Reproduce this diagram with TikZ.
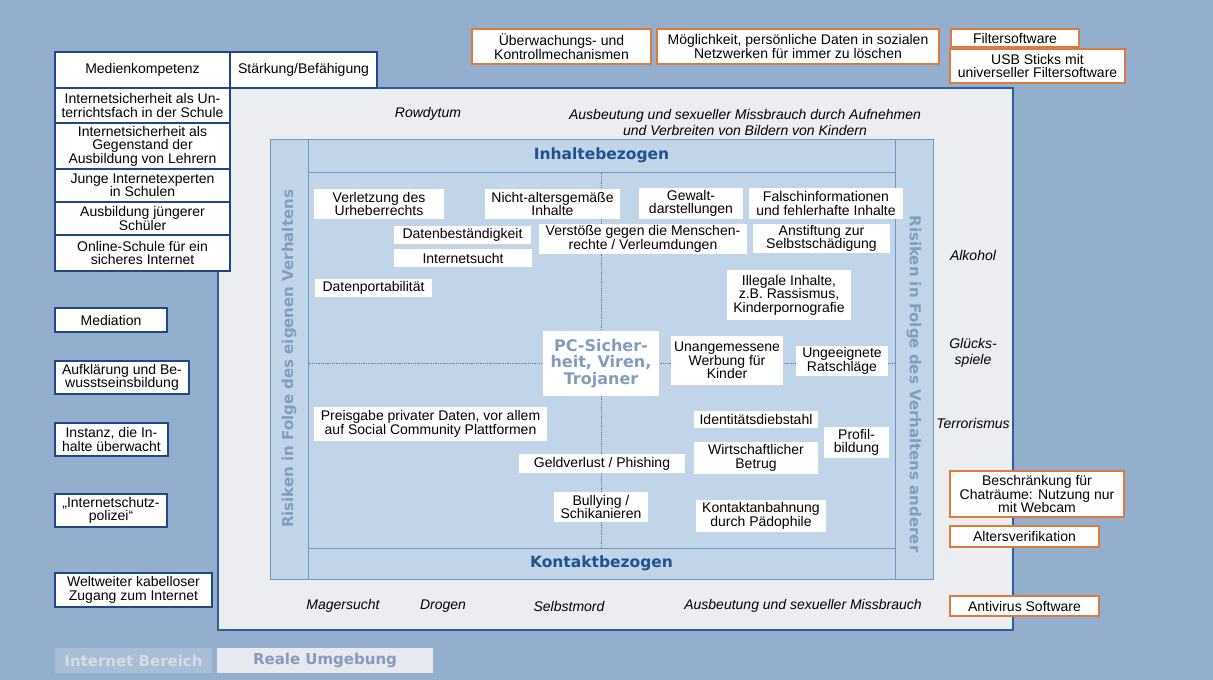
\documentclass[tikz,border=0pt]{standalone}
\usepackage{fontspec}
\setmainfont{Liberation Sans}
\newfontfamily\headfont{DejaVu Sans}
\lineskiplimit=-20pt

\definecolor{bgblue}{RGB}{148,174,205}
\definecolor{panelgrey}{RGB}{236,237,241}
\definecolor{innerblue}{RGB}{193,212,232}
\definecolor{bandline}{RGB}{112,150,194}
\definecolor{boxnavy}{RGB}{32,72,132}
\definecolor{frameblue}{RGB}{45,95,158}
\definecolor{boxorange}{RGB}{222,122,62}
\definecolor{headblue}{RGB}{30,82,145}
\definecolor{fadeblue}{RGB}{132,156,188}
\definecolor{tabblue}{RGB}{168,190,215}
\definecolor{tabtext}{RGB}{212,220,230}
\definecolor{tabgrey}{RGB}{231,233,238}
\definecolor{dotline}{RGB}{95,125,165}

\tikzset{
  sz/.style 2 args={minimum width=#1pt, minimum height=#2pt},
  txt/.style={font=\fontsize{14}{13.5}\selectfont, align=center, inner sep=0pt},
  bluebox/.style={txt, draw=boxnavy, line width=1.6pt, fill=white},
  orangebox/.style={txt, draw=boxorange, line width=2.2pt, fill=white},
  riskbox/.style={txt, fill=white},
  factor/.style={font=\fontsize{14}{16}\selectfont\itshape, align=center, inner sep=0pt},
  band/.style={draw=bandline, line width=1pt, fill=innerblue, inner sep=0pt,
    text=headblue, font=\headfont\bfseries\fontsize{15.5}{15.5}\selectfont},
  bandtext/.style={inner sep=0pt, text=fadeblue, font=\headfont\bfseries\fontsize{15}{15}\selectfont},
  tab/.style={inner sep=0pt, font=\headfont\bfseries\fontsize{15}{15}\selectfont},
  axis/.style={dotline, densely dotted, line width=0.8pt}
}

\begin{document}
\begin{tikzpicture}[x=1pt, y=-1pt]
  \useasboundingbox (0,0) rectangle (1213,680);
  \fill[bgblue] (0,0) rectangle (1213,680);

  % real world panel and the risk field inside it
  \node[draw=frameblue, line width=2pt, fill=panelgrey, sz={795}{542}] (umgebung) at (615.5,359) {};
  \node[draw=bandline, line width=1pt, fill=innerblue, sz={663}{440}] (risk) at (601.5,359) {};
  \node[band, sz={38}{440}] (lband) at (289,359) {};
  \node[band, sz={38}{440}] (rband) at (914,359) {};
  \node[band, sz={587}{33}] (hdr) at (601.5,155.5) {Inhaltebezogen};
  \node[band, sz={587}{31}] (ftr) at (601.5,563.5) {Kontaktbezogen};
  \node[bandtext, rotate=90] (eigen) at (289,359) {Risiken in Folge des eigenen Verhaltens};
  \node[bandtext, rotate=-90] (andere) at (914,384) {Risiken in Folge des Verhaltens anderer};

  % centre cross
  \coordinate (mid) at (601,363.5);
  \draw[axis] (hdr.south) -- (ftr.north);
  \draw[axis] (lband.east |- mid) -- (rband.west |- mid);
  \node[riskbox, sz={116}{65}, text=fadeblue,
    font=\headfont\bfseries\fontsize{16}{16.5}\selectfont] (pc) at (mid) {PC-Sicher-\\heit, Viren,\\Trojaner};

  % risks
  \node[riskbox, sz={130}{30}] (urheber) at (379,204) {Verletzung des\\Urheberrechts};
  \node[riskbox, sz={135}{30}] (altersgemaess) at (552.5,204) {Nicht-altersgemäße\\Inhalte};
  \node[riskbox, sz={104}{31}] (gewalt) at (691,203.5) {Gewalt-\\darstellungen};
  \node[riskbox, sz={154}{31}] (falsch) at (826,203.5) {Falschinformationen\\und fehlerhafte Inhalte};
  \node[riskbox, sz={137}{18}] (bestand) at (462.5,235) {Datenbeständigkeit};
  \node[riskbox, sz={138}{18}] (sucht) at (463,258) {Internetsucht};
  \node[riskbox, sz={208}{30}] (menschen) at (643,239) {Verstöße gegen die Menschen-\\rechte / Verleumdungen};
  \node[riskbox, sz={137}{29}] (anstiftung) at (821.5,238.5) {Anstiftung zur\\Selbstschädigung};
  \node[riskbox, sz={117}{18}] (portab) at (373.5,288) {Datenportabilität};
  \node[riskbox, sz={124}{50}] (illegal) at (789,295) {Illegale Inhalte,\\z.B. Rassismus,\\Kinderpornografie};
  \node[riskbox, sz={112}{49}] (werbung) at (727,360.5) {Unangemessene\\Werbung für\\Kinder};
  \node[riskbox, sz={92}{30}] (ratschlaege) at (842,361) {Ungeeignete\\Ratschläge};
  \node[riskbox, sz={233}{34}] (preisgabe) at (430.5,424) {Preisgabe privater Daten, vor allem\\auf Social Community Plattformen};
  \node[riskbox, sz={124}{17}] (identitaet) at (756,419.5) {Identitätsdiebstahl};
  \node[riskbox, sz={65}{31}] (profil) at (856.5,442.5) {Profil-\\bildung};
  \node[riskbox, sz={166}{19}] (geld) at (602,463.5) {Geldverlust / Phishing};
  \node[riskbox, sz={124}{32}] (betrug) at (756,458) {Wirtschaftlicher\\Betrug};
  \node[riskbox, sz={94}{30}] (bullying) at (601,507) {Bullying /\\Schikanieren};
  \node[riskbox, sz={130}{32}] (paedo) at (761,516) {Kontaktanbahnung\\durch Pädophile};

  % offline risk factors
  \node[factor] (rowdy) at (428,114) {Rowdytum};
  \node[factor] (bilder) at (745,122) {Ausbeutung und sexueller Missbrauch durch Aufnehmen\\und Verbreiten von Bildern von Kindern};
  \node[factor] (mager) at (343,606) {Magersucht};
  \node[factor] (drogen) at (443,606) {Drogen};
  \node[factor] (selbstmord) at (569,606) {Selbstmord};
  \node[factor] (missbrauch) at (803,606) {Ausbeutung und sexueller Missbrauch};
  \node[factor] (alkohol) at (973,255) {Alkohol};
  \node[factor] (gluecksspiel) at (973,353) {Glücks-\\spiele};
  \node[factor] (terror) at (973,423) {Terrorismus};

  % media literacy column
  \node[bluebox, sz={175}{36}] (medien) at (142.5,70) {Medienkompetenz};
  \node[bluebox, sz={147}{36}] (staerkung) at (303.5,70) {Stärkung/Befähigung};
  \node[bluebox, sz={175}{35}] (fach) at (142.5,105.5) {Internetsicherheit als Un-\\terrichtsfach in der Schule};
  \node[bluebox, sz={175}{46}] (lehrer) at (142.5,146) {Internetsicherheit als\\Gegenstand der\\Ausbildung von Lehrern};
  \node[bluebox, sz={175}{33}] (experten) at (142.5,185.5) {Junge Internetexperten\\in Schulen};
  \node[bluebox, sz={175}{33}] (schueler) at (142.5,218.5) {Ausbildung jüngerer\\Schüler};
  \node[bluebox, sz={175}{36}] (onlineschule) at (142.5,253) {Online-Schule für ein\\sicheres Internet};

  \node[bluebox, sz={112}{24}] (mediation) at (111,320) {Mediation};
  \node[bluebox, sz={134}{33}] (aufklaerung) at (122,377.5) {Aufklärung und Be-\\wusstseinsbildung};
  \node[bluebox, sz={113}{33}] (instanz) at (111.5,439.5) {Instanz, die In-\\halte überwacht};
  \node[bluebox, sz={112}{33}] (polizei) at (111,510.5) {„Internetschutz-\\polizei“};
  \node[bluebox, sz={157}{34}] (zugang) at (133.5,590) {Weltweiter kabelloser\\Zugang zum Internet};

  % technical measures
  \node[orangebox, sz={179}{35}] (kontrolle) at (561.5,46.5) {Überwachungs- und\\Kontrollmechanismen};
  \node[orangebox, sz={282}{35}] (loeschen) at (798,46.5) {Möglichkeit, persönliche Daten in sozialen\\Netzwerken für immer zu löschen};
  \node[orangebox, sz={128}{18}] (filter) at (1015,38) {Filtersoftware};
  \node[orangebox, sz={175}{34}] (usb) at (1037.5,66) {USB Sticks mit\\universeller Filtersoftware};
  \node[orangebox, sz={174}{46}] (chat) at (1037,494) {Beschränkung für\\Chaträume: Nutzung nur\\mit Webcam};
  \node[orangebox, sz={149}{21}] (alter) at (1024.5,536.5) {Altersverifikation};
  \node[orangebox, sz={149}{20}] (antivirus) at (1024.5,606) {Antivirus Software};

  % legend tabs
  \node[tab, sz={157}{25}, fill=tabblue, text=tabtext] (tabnet) at (133.5,660.5) {Internet Bereich};
  \node[tab, sz={216}{25}, fill=tabgrey, text=fadeblue] (tabreal) at (325,660.5) {Reale Umgebung};
\end{tikzpicture}
\end{document}
